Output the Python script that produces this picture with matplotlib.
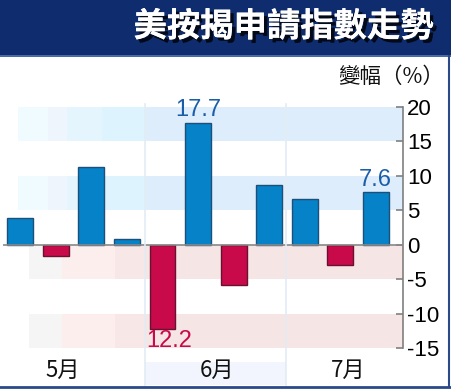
import matplotlib
matplotlib.use("Agg")
import matplotlib.pyplot as plt
import matplotlib.patheffects as pe
from matplotlib.lines import Line2D
from matplotlib.patches import Rectangle

# ---- data ----
values = [3.9, -1.6, 11.2, 0.8, -12.2, 17.7, -5.9, 8.7, 6.6, -2.9, 7.6]
months = ["5月", "6月", "7月"]
yticks = [20, 15, 10, 5, 0, -5, -10, -15]
annotated = {5: "17.7", 4: "12.2", 10: "7.6"}
title = "美按揭申請指數走勢"
ylabel = "變幅（%）"

W, H = 451, 389
fig = plt.figure(figsize=(W / 100, H / 100), dpi=100)
fig.patch.set_facecolor("white")

def fx(px):
    return px / W

def fy(py):
    return 1 - py / H

cjk = ["Noto Sans CJK TC", "DejaVu Sans"]
num = ["Liberation Sans", "DejaVu Sans"]

# banner
fig.patches.append(Rectangle((0, fy(55)), 1, 55 / H, transform=fig.transFigure,
                             facecolor="#0f2d6e", edgecolor="none", zorder=0))
fig.patches.append(Rectangle((0, fy(56.5)), 1, 1.8 / H, transform=fig.transFigure,
                             facecolor="#4a6aa8", edgecolor="none", zorder=0))
fig.text(fx(434), fy(27), title, ha="right", va="center", color="white",
         fontsize=24, fontweight="heavy", family=cjk,
         path_effects=[pe.withSimplePatchShadow(offset=(2.5, -2.5), shadow_rgbFace="#000000", alpha=0.8),
                       pe.Normal()])

# bottom light box under 6月
fig.patches.append(Rectangle((fx(145), fy(385)), fx(286) - fx(145), (385 - 362) / H,
                             transform=fig.transFigure, facecolor="#f2f5fd",
                             edgecolor="none", zorder=0))
for xp in (145, 286):
    fig.lines.append(Line2D([fx(xp), fx(xp)], [fy(385), fy(104)], transform=fig.transFigure,
                            color="#e2ecf3", lw=1.2, zorder=0.5))

# borders
fig.lines.append(Line2D([0, 1], [fy(387), fy(387)], transform=fig.transFigure,
                        color="#2a4a8a", lw=2))
fig.lines.append(Line2D([fx(449), fx(449)], [fy(387), fy(56)], transform=fig.transFigure,
                        color="#2a4a8a", lw=1.5))

# axes
left, right = 3, 403
top, bottom = 106.7, 348
ax = fig.add_axes([fx(left), fy(bottom), fx(right) - fx(left), (bottom - top) / H])
ax.set_facecolor("none")
ax.set_ylim(-15, 20)
ax.set_xlim(-0.49, 10.77)

# bands (gradient segments)
def af(px):
    return (px - left) / (right - left)

blue_segs = [(18, 48, "#f0fbff"), (48, 67, "#eef5fd"), (67, 102, "#e4f5fd"),
             (102, 145, "#ddf3fd"), (145, 403, "#ddedfc")]
pink_segs = [(29, 62, "#f5f5f5"), (62, 115, "#fdeeee"), (115, 145, "#f8e7e7"),
             (145, 403, "#f5e5e5")]
for lo, hi in [(15, 20), (5, 10)]:
    for a, b, c in blue_segs:
        ax.axhspan(lo, hi, xmin=af(a), xmax=af(b), color=c, lw=0, zorder=0)
for lo, hi in [(-5, 0), (-15, -10)]:
    for a, b, c in pink_segs:
        ax.axhspan(lo, hi, xmin=af(a), xmax=af(b), color=c, lw=0, zorder=0)

xs = list(range(len(values)))
colors = ["#0582c8" if v >= 0 else "#c80a4b" for v in values]
edges = ["#1d4f78" if v >= 0 else "#6a1030" for v in values]
ax.bar(xs, values, width=0.73, color=colors, edgecolor=edges, linewidth=1, zorder=3)
ax.axhline(0, color="#888888", lw=1.2, zorder=4)

for i, txt in annotated.items():
    v = values[i]
    if v >= 0:
        ax.annotate(txt, (i, v), xytext=(0, 1), textcoords="offset points", ha="center",
                    va="bottom", color="#1b5ea8", fontsize=17, family=num, zorder=5)
    else:
        ax.annotate(txt, (i + 0.2, v), xytext=(0, -1), textcoords="offset points", ha="center",
                    va="top", color="#c80a4b", fontsize=17, family=num, zorder=5)

for s in ["left", "top", "bottom"]:
    ax.spines[s].set_visible(False)
ax.spines["right"].set_color("#808080")
ax.spines["right"].set_linewidth(1.2)
ax.yaxis.tick_right()
ax.set_yticks(yticks)
ax.set_yticklabels([str(t) for t in yticks], family=num, fontsize=16)
ax.tick_params(axis="y", direction="in", length=5, width=1.2, color="#808080", pad=3)
ax.set_xticks([])

# month labels
for m, xp in zip(months, [63, 217, 348]):
    fig.text(fx(xp), fy(370), m, ha="center", va="center", fontsize=16, family=cjk, color="#111111")

fig.text(fx(444), fy(77), ylabel, ha="right", va="center", fontsize=15.5, family=cjk, color="#111111")

fig.savefig("out.png", dpi=100)
